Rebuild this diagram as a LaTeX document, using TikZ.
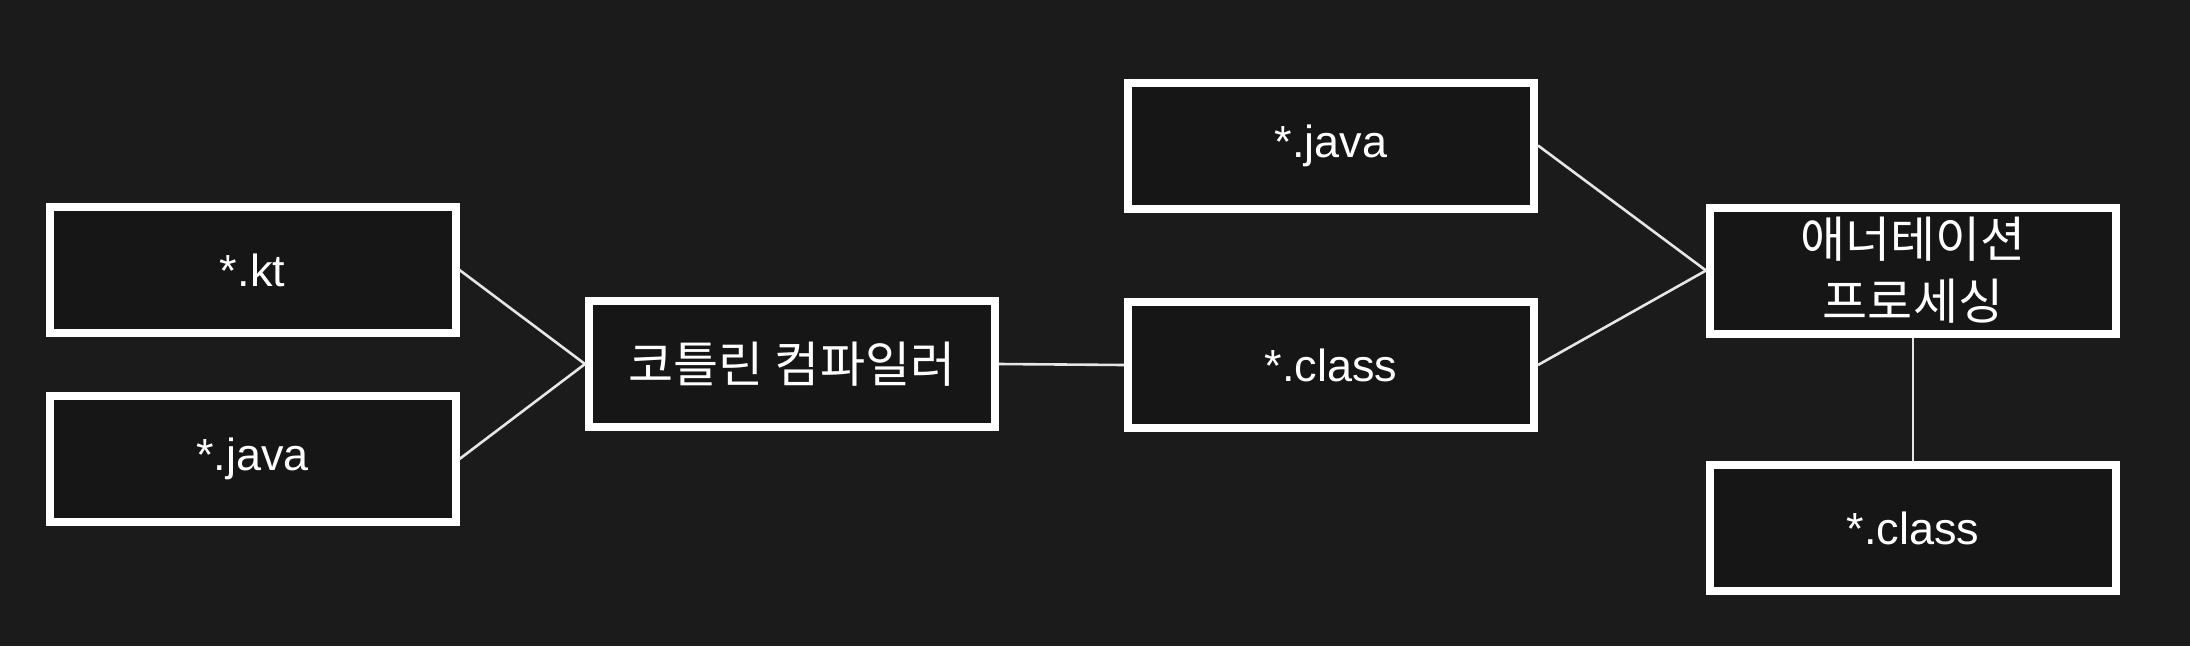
\documentclass[tikz,border=0pt]{standalone}
\usepackage{fontspec}
\setmainfont{Liberation Sans}
\newfontfamily\kr{Noto Sans CJK KR}
\definecolor{bg}{HTML}{1B1B1B}
\definecolor{boxfill}{HTML}{161616}
\definecolor{linec}{HTML}{E6E6E6}
\tikzset{
  filebox/.style={draw=white, line width=8pt, fill=boxfill, minimum width=406pt, minimum height=126pt, inner sep=0pt, align=center, text=white, font=\fontsize{45}{62}\selectfont},
  krtext/.style={font=\fontsize{49}{62}\selectfont\kr}
}
\tikzset{conn/.style={draw=linec, line width=2.6pt}}
\begin{document}
\begin{tikzpicture}[x=1pt,y=-1pt]
\fill[bg] (0,0) rectangle (2190,646);
\useasboundingbox (0,0) rectangle (2190,646);
\node[filebox] (kt) at (252.5,270) {*.kt};
\node[filebox] (javaL) at (252.5,459) {*.java};
\node[filebox, krtext] (comp) at (792,364) {코틀린 컴파일러};
\node[filebox] (javaT) at (1331,145.5) {*.java};
\node[filebox] (classM) at (1331,365) {*.class};
\node[filebox, krtext] (anno) at (1913,270.5) {애너테이션\\프로세싱};
\node[filebox] (classB) at (1913,528) {*.class};
\draw[conn] (kt.east) -- (comp.west);
\draw[conn] (javaL.east) -- (comp.west);
\draw[conn] (comp.east) -- (classM.west);
\draw[conn] (javaT.east) -- (anno.west);
\draw[conn] (classM.east) -- (anno.west);
\draw[conn] (anno.south) -- (classB.north);
\end{tikzpicture}
\end{document}
